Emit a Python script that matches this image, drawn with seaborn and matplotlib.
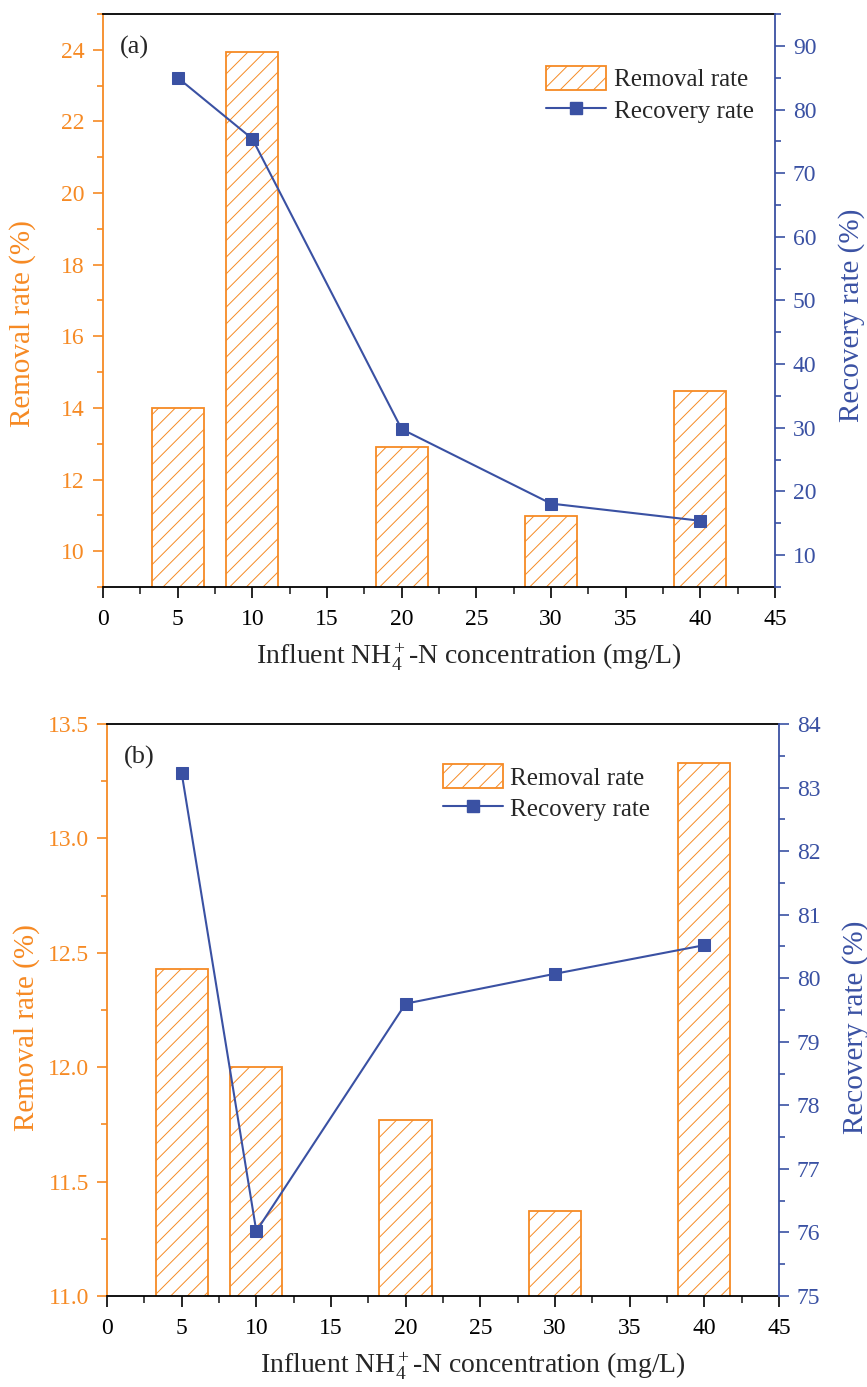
import matplotlib
matplotlib.use('Agg')
import matplotlib.pyplot as plt
from matplotlib.patches import Patch
from matplotlib.lines import Line2D
from matplotlib.ticker import MultipleLocator
import seaborn as sns

# Data
conc = [5, 10, 20, 30, 40]
removal_a = [14.0, 23.93, 12.92, 10.97, 14.47]
recovery_a = [85.0, 75.4, 29.8, 18.1, 15.4]
removal_b = [12.43, 12.0, 11.77, 11.37, 13.33]
recovery_b = [83.23, 76.02, 79.6, 80.07, 80.52]

ORANGE = '#F68A24'
BLUE = '#3A51A3'
SERIF = 'Liberation Serif'

sns.set_style('ticks')
plt.rcParams['font.family'] = [SERIF, 'DejaVu Serif']
plt.rcParams['mathtext.fontset'] = 'custom'
plt.rcParams['mathtext.rm'] = SERIF
plt.rcParams['mathtext.it'] = SERIF + ':italic'
plt.rcParams['hatch.linewidth'] = 0.7

fig = plt.figure(figsize=(8.67, 13.87), dpi=100)
ax_a = fig.add_axes([0.1188, 0.5768, 0.775, 0.4131])
ax_b = fig.add_axes([0.1234, 0.0656, 0.775, 0.4124])


def draw_panel(ax, removal, recovery, ylim_l, ylim_r, major_l, major_r, fmt_l, tag,
               leg_anchor, ly, ry):
    sns.barplot(x=conc, y=removal, ax=ax, native_scale=True, width=0.7,
                errorbar=None, color='white')
    for p in ax.patches:
        p.set_facecolor('white')
        p.set_edgecolor(ORANGE)
        p.set_hatch('//')
        p.set_linewidth(1.3)

    ax2 = ax.twinx()
    sns.lineplot(x=conc, y=recovery, ax=ax2, color=BLUE, marker='s',
                 markersize=8.5, markeredgecolor=BLUE, linewidth=1.5)

    ax.set_xlim(0, 45)
    ax.set_ylim(*ylim_l)
    ax2.set_ylim(*ylim_r)
    ax.xaxis.set_major_locator(MultipleLocator(5))
    ax.xaxis.set_minor_locator(MultipleLocator(2.5))
    ax.yaxis.set_major_locator(MultipleLocator(major_l))
    ax.yaxis.set_minor_locator(MultipleLocator(major_l / 2))
    ax2.yaxis.set_major_locator(MultipleLocator(major_r))
    ax2.yaxis.set_minor_locator(MultipleLocator(major_r / 2))
    ax.yaxis.set_major_formatter(fmt_l)

    for s in ['top', 'right', 'left', 'bottom']:
        ax.spines[s].set_visible(True)
        ax.spines[s].set_linewidth(1.3)
        ax2.spines[s].set_linewidth(1.3)
    ax.spines['left'].set_color(ORANGE)
    ax.spines['top'].set_color('black')
    ax.spines['bottom'].set_color('black')
    ax2.spines['left'].set_visible(False)
    ax2.spines['top'].set_visible(False)
    ax2.spines['bottom'].set_visible(False)
    ax2.spines['right'].set_color(BLUE)
    ax.spines['right'].set_visible(False)

    ax.tick_params(axis='x', which='major', direction='out', length=8, width=1.2,
                   labelsize=17, colors='black', pad=8, labelfontfamily=SERIF)
    ax.tick_params(axis='x', which='minor', direction='out', length=5, width=1.2)
    ax.tick_params(axis='y', which='major', direction='out', length=7, width=1.2,
                   labelsize=17, colors=ORANGE, pad=6, labelfontfamily=SERIF)
    ax.tick_params(axis='y', which='minor', direction='out', length=4, width=1.2,
                   colors=ORANGE)
    ax2.tick_params(axis='y', which='major', direction='out', length=7, width=1.2,
                    labelsize=17, colors=BLUE, pad=6, labelfontfamily=SERIF)
    ax2.tick_params(axis='y', which='minor', direction='out', length=4, width=1.2,
                    colors=BLUE)

    ax.set_xlabel(r'Influent NH$\mathregular{_4^+}$-N concentration (mg/L)', fontsize=20)
    ax.xaxis.set_label_coords(0.545, -0.095)
    ax.set_ylabel('Removal rate (%)', fontsize=21, color=ORANGE)
    ax.yaxis.set_label_coords(-0.10, ly)
    ax2.set_ylabel('Recovery rate (%)', fontsize=21, color=BLUE)
    ax2.yaxis.set_label_coords(1.094, ry)

    ax.text(0.025, 0.942, tag, transform=ax.transAxes, fontsize=19,
            va='center', ha='left')

    handles = [Patch(facecolor='white', edgecolor=ORANGE, hatch='//', linewidth=1.3),
               Line2D([], [], color=BLUE, marker='s', markersize=8.5, linewidth=1.5)]
    ax2.legend(handles, ['Removal rate', 'Recovery rate'], loc='upper left',
               bbox_to_anchor=leg_anchor, frameon=False, fontsize=18,
               handlelength=2.4, handleheight=1.1, handletextpad=0.3,
               labelspacing=0.25, borderaxespad=0, borderpad=0)


draw_panel(ax_a, removal_a, recovery_a, (9, 25), (5, 95), 2, 10, '{x:.0f}', '(a)',
           (0.66, 0.91), 0.46, 0.475)
draw_panel(ax_b, removal_b, recovery_b, (11.0, 13.5), (75, 84), 0.5, 1, '{x:.1f}', '(b)',
           (0.50, 0.93), 0.47, 0.47)

fig.savefig('out.png', dpi=100)
